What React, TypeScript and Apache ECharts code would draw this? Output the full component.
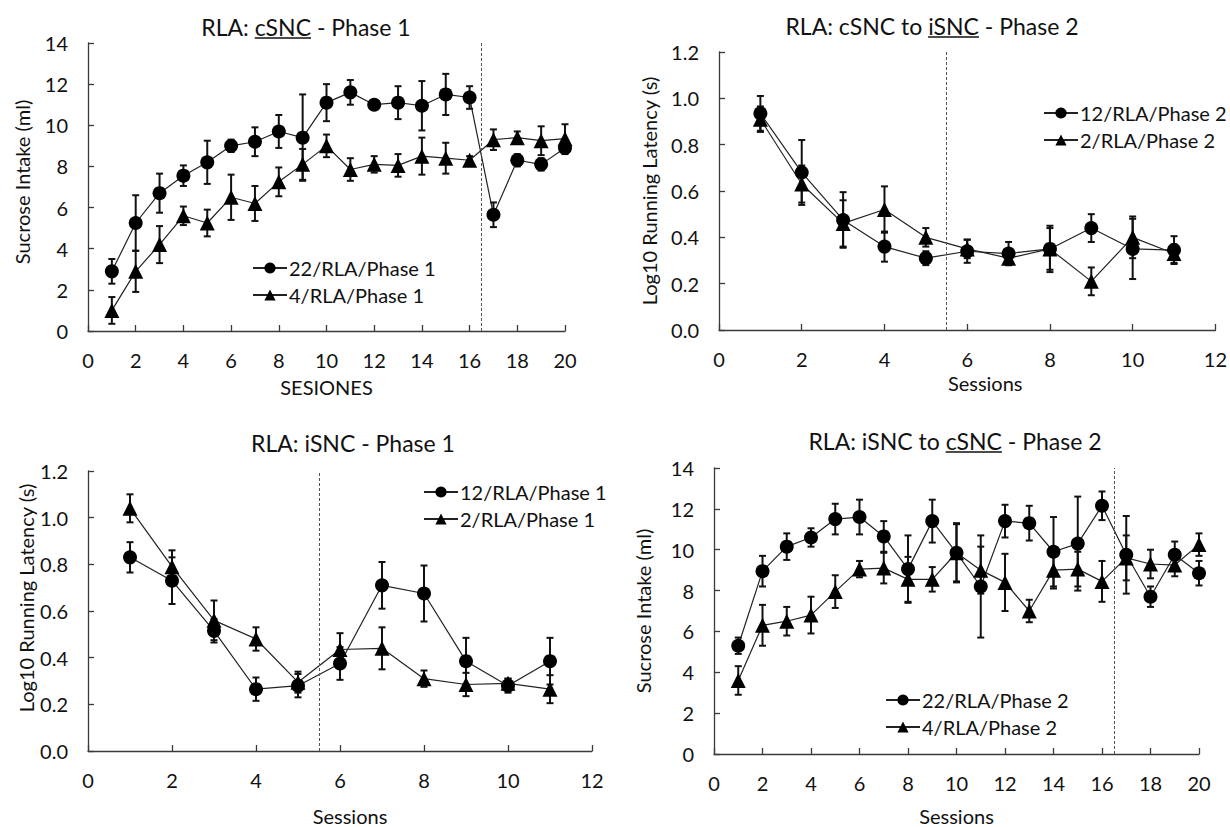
import React, { useEffect, useRef } from "react";
import * as echarts from "echarts";

// ---------- Data ----------
const sessions20 = [1, 2, 3, 4, 5, 6, 7, 8, 9, 10, 11, 12, 13, 14, 15, 16, 17, 18, 19, 20];
const sessions11 = [1, 2, 3, 4, 5, 6, 7, 8, 9, 10, 11];

// Panel A: RLA: cSNC - Phase 1 (Sucrose intake)
const aCircle = [2.9, 5.25, 6.7, 7.55, 8.2, 9.0, 9.2, 9.7, 9.4, 11.1, 11.6, 11.0, 11.1, 10.95, 11.5, 11.35, 5.65, 8.3, 8.1, 8.9];
const aCircleErr = [0.6, 1.35, 0.95, 0.5, 1.05, 0.3, 0.7, 0.8, 2.1, 0.9, 0.6, 0.15, 0.8, 1.2, 1.0, 0.55, 0.6, 0.3, 0.3, 0.3];
const aTri = [1.0, 2.9, 4.2, 5.6, 5.25, 6.5, 6.2, 7.25, 8.1, 9.0, 7.85, 8.1, 8.05, 8.5, 8.4, 8.3, 9.3, 9.4, 9.25, 9.35];
const aTriErr = [0.65, 1.0, 0.9, 0.45, 0.65, 1.1, 0.85, 0.7, 0.75, 0.55, 0.55, 0.4, 0.55, 0.9, 0.75, 0.2, 0.5, 0.3, 0.7, 0.7];

// Panel B: RLA: cSNC to iSNC - Phase 2 (Log10 running latency)
const bCircle = [0.935, 0.68, 0.475, 0.36, 0.31, 0.34, 0.33, 0.35, 0.44, 0.35, 0.345];
const bCircleErr = [0.075, 0.14, 0.12, 0.065, 0.03, 0.05, 0.05, 0.1, 0.06, 0.13, 0.06];
const bTri = [0.91, 0.63, 0.46, 0.52, 0.4, 0.35, 0.31, 0.35, 0.21, 0.4, 0.33];
const bTriErr = [0.055, 0.08, 0.1, 0.1, 0.04, 0.04, 0.03, 0.09, 0.06, 0.09, 0.04];

// Panel C: RLA: iSNC - Phase 1 (Log10 running latency)
const cCircle = [0.83, 0.73, 0.515, 0.265, 0.28, 0.375, 0.71, 0.675, 0.385, 0.28, 0.385];
const cCircleErr = [0.065, 0.1, 0.05, 0.05, 0.05, 0.07, 0.1, 0.12, 0.1, 0.03, 0.1];
const cTri = [1.04, 0.79, 0.56, 0.48, 0.295, 0.435, 0.44, 0.31, 0.285, 0.29, 0.265];
const cTriErr = [0.06, 0.07, 0.085, 0.05, 0.045, 0.07, 0.09, 0.035, 0.05, 0.02, 0.06];

// Panel D: RLA: iSNC to cSNC - Phase 2 (Sucrose intake)
const dCircle = [5.3, 8.95, 10.15, 10.6, 11.5, 11.6, 10.65, 9.05, 11.4, 9.85, 8.2, 11.4, 11.3, 9.9, 10.3, 12.15, 9.75, 7.7, 9.75, 8.85];
const dCircleErr = [0.4, 0.75, 0.65, 0.45, 0.75, 0.85, 0.75, 1.65, 1.05, 1.45, 2.5, 0.8, 0.85, 1.7, 2.3, 0.7, 1.9, 0.5, 0.65, 0.6];
const dTri = [3.6, 6.3, 6.5, 6.8, 7.95, 9.05, 9.1, 8.55, 8.55, 9.85, 9.0, 8.4, 7.0, 9.0, 9.05, 8.45, 9.6, 9.3, 9.25, 10.25];
const dTriErr = [0.7, 1.0, 0.7, 0.9, 0.8, 0.4, 0.75, 1.1, 0.6, 1.4, 1.15, 1.4, 0.55, 0.9, 0.85, 1.0, 1.1, 0.7, 0.55, 0.55];

const seriesNames = [
  ["22/RLA/Phase 1", "4/RLA/Phase 1"],
  ["12/RLA/Phase 2", "2/RLA/Phase 2"],
  ["12/RLA/Phase 1", "2/RLA/Phase 1"],
  ["22/RLA/Phase 2", "4/RLA/Phase 2"],
];

// title parts: [before, underlined, after]
const titles = [
  ["RLA: ", "cSNC", " - Phase 1"],
  ["RLA: cSNC to ", "iSNC", " - Phase 2"],
  ["RLA: iSNC - Phase 1", "", ""],
  ["RLA: iSNC to ", "cSNC", " - Phase 2"],
];

const xNames = ["SESIONES", "Sessions", "Sessions", "Sessions"];
const yNames = ["Sucrose Intake (ml)", "Log10 Running Latency (s)", "Log10 Running Latency (s)", "Sucrose Intake (ml)"];
const dashedAt = [16.5, 5.5, 5.5, 16.5];

// ---------- Layout / style ----------
const FONT = "Lato";
const TXT = "#111";
const AX = "#3a3a3a";

const grids = [
  { left: 88, top: 43, width: 477, height: 288 },
  { left: 719, top: 52, width: 497, height: 278 },
  { left: 88, top: 471, width: 504, height: 282 },
  { left: 714, top: 468, width: 485, height: 288 },
];
const titlePos = [
  [306, 27],
  [932, 26],
  [353, 443],
  [955, 441],
];
const legendPos = [
  { left: 252, top: 258 },
  { left: 1043, top: 103 },
  { left: 423, top: 482 },
  { left: 885, top: 690 },
];

function errSeries(idx: number, xs: number[], ys: number[], es: number[]) {
  return {
    type: "custom",
    xAxisIndex: idx,
    yAxisIndex: idx,
    silent: true,
    z: 2,
    data: xs.map((x, i) => [x, ys[i] - es[i], ys[i] + es[i]]),
    encode: { x: 0, y: [1, 2] },
    renderItem: (_p: any, api: any) => {
      const x = api.value(0);
      const lo = api.coord([x, api.value(1)]);
      const hi = api.coord([x, api.value(2)]);
      const w = 3.5;
      const st = { stroke: "#111", lineWidth: 2 };
      return {
        type: "group",
        children: [
          { type: "line", shape: { x1: lo[0], y1: lo[1], x2: hi[0], y2: hi[1] }, style: st },
          { type: "line", shape: { x1: lo[0] - w, y1: lo[1], x2: lo[0] + w, y2: lo[1] }, style: st },
          { type: "line", shape: { x1: hi[0] - w, y1: hi[1], x2: hi[0] + w, y2: hi[1] }, style: st },
        ],
      };
    },
  };
}

function lineSeries(idx: number, name: string, xs: number[], ys: number[], tri: boolean, dash?: number) {
  const s: any = {
    type: "line",
    name,
    xAxisIndex: idx,
    yAxisIndex: idx,
    data: xs.map((x, i) => [x, ys[i]]),
    symbol: tri ? "triangle" : "circle",
    symbolSize: tri ? 15 : 14,
    itemStyle: { color: "#000" },
    lineStyle: { color: "#222", width: 1.2 },
    z: 3,
  };
  if (dash !== undefined) {
    s.markLine = {
      silent: true,
      symbol: "none",
      label: { show: false },
      lineStyle: { type: [3, 2], color: "#555", width: 1 },
      data: [{ xAxis: dash }],
    };
  }
  return s;
}

function measure(text: string, size: number) {
  const c = document.createElement("canvas").getContext("2d");
  if (!c) return text.length * size * 0.5;
  c.font = `${size}px ${FONT}`;
  return c.measureText(text).width;
}

export default function App() {
  const ref = useRef<HTMLDivElement>(null);
  useEffect(() => {
    if (!ref.current) return;
    const chart = echarts.init(ref.current, undefined, { renderer: "svg" });

    const panels = [
      { xs: sessions20, c: aCircle, ce: aCircleErr, t: aTri, te: aTriErr, ymax: 14, yint: 2, xmax: 20, dec: 0 },
      { xs: sessions11, c: bCircle, ce: bCircleErr, t: bTri, te: bTriErr, ymax: 1.2, yint: 0.2, xmax: 12, dec: 1 },
      { xs: sessions11, c: cCircle, ce: cCircleErr, t: cTri, te: cTriErr, ymax: 1.2, yint: 0.2, xmax: 12, dec: 1 },
      { xs: sessions20, c: dCircle, ce: dCircleErr, t: dTri, te: dTriErr, ymax: 14, yint: 2, xmax: 20, dec: 0 },
    ];
    const xNameGap = [46, 43, 55, 52];
    const xNamePad = [0, 36, 20, 0];
    const yNameGap = [56, 60, 51, 61];
    const yNamePad = [10, 0, 26, 0];

    const TITLE_SIZE = 23;
    const AXNAME = 20;
    const TICK = 20;
    const graphic: any[] = [];
    titles.forEach((parts, i) => {
      const full = parts.join("");
      const [cx, cy] = titlePos[i];
      graphic.push({
        type: "text",
        x: cx,
        y: cy,
        style: { text: full, fontSize: TITLE_SIZE, fontFamily: FONT, fill: TXT, align: "center", verticalAlign: "middle" },
      });
      if (parts[1]) {
        const wAll = measure(full, TITLE_SIZE);
        const w0 = measure(parts[0], TITLE_SIZE);
        const w1 = measure(parts[1], TITLE_SIZE);
        const x0 = cx - wAll / 2 + w0;
        graphic.push({
          type: "line",
          shape: { x1: x0, y1: cy + 11, x2: x0 + w1, y2: cy + 11 },
          style: { stroke: TXT, lineWidth: 1.4 },
        });
      }
    });

    const option: any = {
      animation: false,
      backgroundColor: "#fff",
      grid: grids.map((g) => ({ ...g, containLabel: false })),
      xAxis: panels.map((p, i) => ({
        type: "value",
        gridIndex: i,
        min: 0,
        max: p.xmax,
        interval: 2,
        name: xNames[i],
        nameLocation: "middle",
        nameGap: xNameGap[i],
        nameTextStyle: { fontSize: AXNAME, fontFamily: FONT, color: TXT, padding: [0, 0, 0, xNamePad[i]] },
        axisLine: { show: true, onZero: false, lineStyle: { color: AX, width: 1.3 } },
        axisTick: { show: true, inside: true, length: 6, lineStyle: { color: AX, width: 1.3 } },
        axisLabel: { fontSize: TICK, fontFamily: FONT, color: TXT, margin: 19 },
        splitLine: { show: false },
      })),
      yAxis: panels.map((p, i) => ({
        type: "value",
        gridIndex: i,
        min: 0,
        max: p.ymax,
        interval: p.yint,
        name: yNames[i],
        nameLocation: "middle",
        nameGap: yNameGap[i],
        nameTextStyle: { fontSize: AXNAME, fontFamily: FONT, color: TXT, padding: [0, 0, 0, yNamePad[i]] },
        axisLine: { show: true, onZero: false, lineStyle: { color: AX, width: 1.3 } },
        axisTick: { show: true, inside: true, length: 6, lineStyle: { color: AX, width: 1.3 } },
        axisLabel: {
          fontSize: TICK,
          fontFamily: FONT,
          color: TXT,
          margin: 20,
          formatter: (v: number) => v.toFixed(p.dec),
        },
        splitLine: { show: false },
      })),
      legend: panels.map((_p, i) => ({
        data: seriesNames[i],
        orient: "vertical",
        left: legendPos[i].left,
        top: legendPos[i].top,
        padding: 0,
        itemWidth: 34,
        itemHeight: 14,
        itemGap: 7,
        selectedMode: false,
        textStyle: { fontSize: 20, fontFamily: FONT, color: TXT, padding: [0, 0, 0, -3] },
      })),
      series: panels.flatMap((p, i) => [
        errSeries(i, p.xs, p.c, p.ce),
        errSeries(i, p.xs, p.t, p.te),
        lineSeries(i, seriesNames[i][0], p.xs, p.c, false, dashedAt[i]),
        lineSeries(i, seriesNames[i][1], p.xs, p.t, true),
      ]),
      graphic,
    };
    chart.setOption(option);
    return () => chart.dispose();
  }, []);
  return (
    <div
      ref={ref}
      style={{ position: "fixed", left: 0, top: 0, width: 1230, height: 827, background: "#fff" }}
    />
  );
}
